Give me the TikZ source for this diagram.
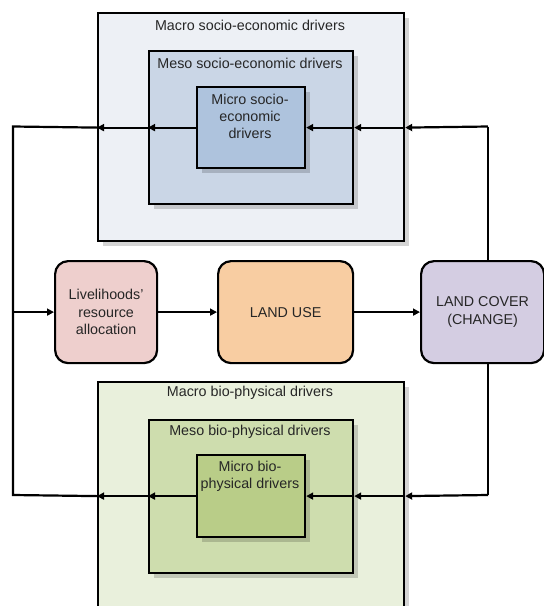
\documentclass[tikz,border=0pt]{standalone}
\usepackage{fontspec}
\setmainfont{Liberation Sans}
\usetikzlibrary{arrows.meta,shadows}

\definecolor{macsoc}{HTML}{EDF0F5}
\definecolor{messoc}{HTML}{CAD6E6}
\definecolor{micsoc}{HTML}{AEC3DD}
\definecolor{macbio}{HTML}{E9F0DC}
\definecolor{mesbio}{HTML}{CEDDAE}
\definecolor{micbio}{HTML}{B9CD88}
\definecolor{livefill}{HTML}{EECFCD}
\definecolor{usefill}{HTML}{F8CDA2}
\definecolor{coverfill}{HTML}{D4CDE2}

\tikzset{
  box/.style={draw=black, line width=2.2pt, anchor=north west, inner sep=0pt,
    drop shadow={shadow xshift=5pt, shadow yshift=-5pt, fill=black, opacity=0.17}},
  rbox/.style={draw=black, line width=2.2pt, rounded corners=13pt, anchor=north west,
    inner sep=0pt, align=center, text=black!85, font=\fontsize{14.3}{17.5}\selectfont},
  txt/.style={text=black!85, align=center, font=\fontsize{14.3}{17}\selectfont},
  ln/.style={line width=2.2pt},
  arr/.style={line width=2.2pt, -{Triangle[length=7pt,width=7pt]}}
}

\begin{document}
\begin{tikzpicture}[x=1pt,y=-1pt]
  \useasboundingbox (0,0) rectangle (544,606);
  \clip (0,0) rectangle (544,606);
  \node[box, fill=macsoc, minimum width=306pt, minimum height=228pt] (macS) at (97,12) {};
  \node[box, fill=messoc, minimum width=204pt, minimum height=153pt] (mesS) at (148,50) {};
  \node[box, fill=micsoc, minimum width=108pt, minimum height=81pt] (micS) at (196,86) {};
  \node[box, fill=macbio, minimum width=306pt, minimum height=260pt] (macB) at (97,381) {};
  \node[box, fill=mesbio, minimum width=204pt, minimum height=153pt] (mesB) at (148,419) {};
  \node[box, fill=micbio, minimum width=108pt, minimum height=82pt] (micB) at (196,454) {};
  \node[txt] (macSt) at (250,25) {Macro socio-economic drivers};
  \node[txt] (mesSt) at (250,63) {Meso socio-economic drivers};
  \node[txt] (micSt) at (250,116) {Micro socio-\\economic\\drivers};
  \node[txt] (macBt) at (250,393) {Macro bio-physical drivers};
  \node[txt] (mesBt) at (250,432) {Meso bio-physical drivers};
  \node[txt] (micBt) at (250,476.5) {Micro bio-\\physical drivers};
  \node[rbox, fill=livefill, minimum width=102pt, minimum height=102pt] (live) at (54,260) {Livelihoods'\\resource\\allocation};
  \node[rbox, fill=usefill, minimum width=135pt, minimum height=102pt] (use) at (217,260) {LAND USE};
  \node[rbox, fill=coverfill, minimum width=123pt, minimum height=102pt] (cover) at (420,260) {LAND COVER\\(CHANGE)};
  \coordinate (rt) at (488,126.5);
  \coordinate (rb) at (488,495);
  \coordinate (lt) at (13,126.5);
  \coordinate (lb) at (13,495);
  \draw[ln] (cover.north -| rt) -- (rt);
  \draw[arr] (rt) -- (macS.east |- micS);
  \draw[arr] (macS.east |- micS) -- (mesS.east |- micS);
  \draw[arr] (mesS.east |- micS) -- (micS.east);
  \draw[arr] (micS.west) -- (mesS.west |- micS);
  \draw[arr] (mesS.west |- micS) -- (macS.west |- micS);
  \draw[ln] (macS.west |- micS) -- (lt) -- (lb) -- (macB.west |- micB);
  \draw[ln] (cover.south -| rb) -- (rb);
  \draw[arr] (rb) -- (macB.east |- micB);
  \draw[arr] (macB.east |- micB) -- (mesB.east |- micB);
  \draw[arr] (mesB.east |- micB) -- (micB.east);
  \draw[arr] (micB.west) -- (mesB.west |- micB);
  \draw[arr] (mesB.west |- micB) -- (macB.west |- micB);
  \draw[arr] (lt |- live) -- (live);
  \draw[arr] (live) -- (use);
  \draw[arr] (use) -- (cover);
\end{tikzpicture}
\end{document}
